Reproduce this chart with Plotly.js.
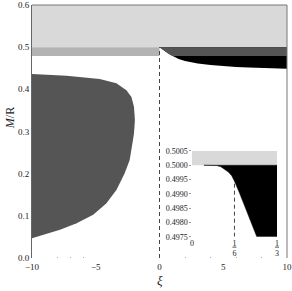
<!DOCTYPE html>
<html>
<head>
<meta charset="utf-8">
<script src="https://cdn.plot.ly/plotly-3.0.1.min.js"></script>
<style>html,body{margin:0;padding:0;background:#fff;}#chart{width:292px;height:291px;}</style>
</head>
<body>
<div id="chart"></div>
<script>
// ---- data ----
const xiRange = [-10, 10];
const lightBandM = [0.5, 0.6];          // light grey band
const midBandXi = [-10, 0];
const midBandM = [0.479, 0.5];          // medium grey band (xi<0) / dark grey band (xi>0)

// left dark region boundary (closed polygon)
const leftXi = [-10, -10, -9.1, -7.8, -6.5, -5.2, -4.16, -3.38, -2.73, -2.34, -2.08, -2.0, -1.93, -2.0, -2.2, -2.6, -3.38, -4.69, -7.29, -10];
const leftM  = [0.4365, 0.047, 0.055, 0.0668, 0.0825, 0.1025, 0.130, 0.161, 0.201, 0.2327, 0.28, 0.296, 0.3275, 0.358, 0.382, 0.398, 0.4143, 0.4245, 0.4325, 0.4365];

// right curve (xi >= 0)
const rightXi = [0, 0.25, 0.5, 0.75, 1, 1.5, 2, 3, 4, 5, 6, 7, 8, 9, 10];
const rightM  = [0.5, 0.494, 0.489, 0.484, 0.4795, 0.472, 0.467, 0.4615, 0.458, 0.455, 0.453, 0.4515, 0.4505, 0.4498, 0.449];

// dashed marker in main plot
const markXi = [0, 0];
const markM = [0, 0.5];

// inset
const insRange = [0, 1/3];
const insYRange = [0.4975, 0.5005];
const insBandM = [0.5, 0.5005];
const insXi = [0.047, 0.097, 0.113, 0.129, 0.143, 0.156, 0.169, 0.188, 0.201, 0.254];
const insM  = [0.5, 0.49999, 0.49995, 0.49986, 0.49976, 0.49963, 0.4994, 0.49899, 0.4987, 0.4975];
const insMarkXi = [1/6, 1/6];
const insMarkM = [0.4975, 0.49945];
const insYTicks = [0.4975, 0.4980, 0.4985, 0.4990, 0.4995, 0.5000, 0.5005];
const insXTicks = [0, 1/6, 1/3];
const insXTickText = ['0', "<span style='text-decoration:underline'>1</span><br>6", "<span style='text-decoration:underline'>1</span><br>3"];
const mainXTicks = [-10, -5, 0, 5, 10];
const mainYTicks = [0, 0.1, 0.2, 0.3, 0.4, 0.5, 0.6];
const minorXTicks = [-8, -7, -6, 2, 4, 6, 8];

// ---- colours ----
const cLight = '#d9d9d9', cMid = '#b3b3b3', cDark = '#555555', cBlack = '#000000';
const FONT = 'Liberation Serif';

function rect(x, y, color, xa, ya) {
  return {x: [x[0], x[1], x[1], x[0], x[0]], y: [y[0], y[0], y[1], y[1], y[0]],
    xaxis: xa || 'x', yaxis: ya || 'y', mode: 'lines', fill: 'toself', fillcolor: color,
    line: {width: 0, color: color}, hoverinfo: 'skip', showlegend: false};
}

// dark grey band above max(curve, low) on the right
const low = midBandM[0], high = midBandM[1];
const gx = [], gy = [];
for (let i = 0; i < rightXi.length; i++) {
  if (rightM[i] >= low) { gx.push(rightXi[i]); gy.push(rightM[i]); }
  else {
    if (i > 0 && rightM[i-1] > low) {
      const t = (rightM[i-1] - low) / (rightM[i-1] - rightM[i]);
      gx.push(rightXi[i-1] + t * (rightXi[i] - rightXi[i-1])); gy.push(low);
    }
    gx.push(rightXi[i]); gy.push(low);
  }
}
gx.push(rightXi[rightXi.length-1], rightXi[0]); gy.push(high, high);

const traces = [
  rect(xiRange, lightBandM, cLight),
  rect(midBandXi, midBandM, cMid),
  {x: leftXi, y: leftM, mode: 'lines', fill: 'toself', fillcolor: cDark, line: {width: 0, color: cDark}, hoverinfo: 'skip', showlegend: false},
  {x: rightXi.concat([rightXi[rightXi.length-1], rightXi[0]]), y: rightM.concat([high, high]), mode: 'lines', fill: 'toself', fillcolor: cBlack, line: {width: 0, color: cBlack}, hoverinfo: 'skip', showlegend: false},
  {x: gx, y: gy, mode: 'lines', fill: 'toself', fillcolor: cDark, line: {width: 0, color: cDark}, hoverinfo: 'skip', showlegend: false},
  {x: markXi, y: markM, mode: 'lines', line: {width: 1, color: '#444', dash: '4px,3px'}, hoverinfo: 'skip', showlegend: false},
  // inset
  rect(insRange, insBandM, cLight, 'x2', 'y2'),
  {x: insXi.concat([insRange[1], insRange[1], insXi[0]]), y: insM.concat([insYRange[0], 0.5, 0.5]), xaxis: 'x2', yaxis: 'y2', mode: 'lines', fill: 'toself', fillcolor: cBlack, line: {width: 0.5, color: cBlack}, hoverinfo: 'skip', showlegend: false},
  {x: insMarkXi, y: insMarkM, xaxis: 'x2', yaxis: 'y2', mode: 'lines', line: {width: 1, color: '#444', dash: '4px,3px'}, hoverinfo: 'skip', showlegend: false}
];

const layout = {
  width: 292, height: 291,
  margin: {l: 32, r: 5, t: 5, b: 33},
  paper_bgcolor: '#fff', plot_bgcolor: '#fff',
  font: {family: FONT, size: 9, color: '#222'},
  xaxis: {range: xiRange, tickvals: mainXTicks, showgrid: false, zeroline: false, showline: false,
    ticks: '', ticklabelstandoff: 2, tickfont: {family: FONT, size: 9, color: '#222'},
    minor: {tickmode: 'array', tickvals: minorXTicks, ticks: 'inside', ticklen: 1.5, tickcolor: '#aaa', showgrid: false}},
  yaxis: {range: [0, 0.6], tickvals: mainYTicks, tickformat: '.1f', showgrid: false, zeroline: false,
    showline: true, linecolor: '#666', linewidth: 1, ticks: '', tickfont: {family: FONT, size: 9, color: '#222'}},
  xaxis2: {domain: [0.627, 0.961], anchor: 'y2', range: insRange, tickmode: 'array', tickvals: insXTicks, ticktext: insXTickText,
    showgrid: false, zeroline: false, showline: false, ticks: '', tickfont: {family: FONT, size: 8, color: '#222'}},
  yaxis2: {domain: [0.0842, 0.423], anchor: 'x2', range: insYRange, tickmode: 'array', tickvals: insYTicks,
    ticktext: insYTicks.map(v => v.toFixed(4)), showgrid: false, zeroline: false, showline: false,
    ticks: 'outside', ticklen: 1.5, tickcolor: '#999', tickfont: {family: FONT, size: 8, color: '#222'}},
  shapes: [
    {type: 'line', xref: 'paper', yref: 'paper', x0: 0, x1: 1, y0: 1, y1: 1, line: {color: '#777', width: 1}},
    {type: 'line', xref: 'paper', yref: 'paper', x0: 1, x1: 1, y0: 0, y1: 1, line: {color: '#777', width: 1}}
  ],
  annotations: [
    {text: '<i>ξ</i>', xref: 'paper', yref: 'paper', x: 0.5, y: -0.087, xanchor: 'center', yanchor: 'middle', showarrow: false, font: {family: FONT, size: 13, color: '#222'}},
    {text: '<i>M</i>/R', xref: 'paper', yref: 'paper', x: -0.086, y: 0.553, xanchor: 'center', yanchor: 'middle', textangle: -90, showarrow: false, font: {family: FONT, size: 12, color: '#222'}}
  ]
};

Plotly.newPlot('chart', traces, layout, {staticPlot: true, displayModeBar: false});
</script>
</body>
</html>
